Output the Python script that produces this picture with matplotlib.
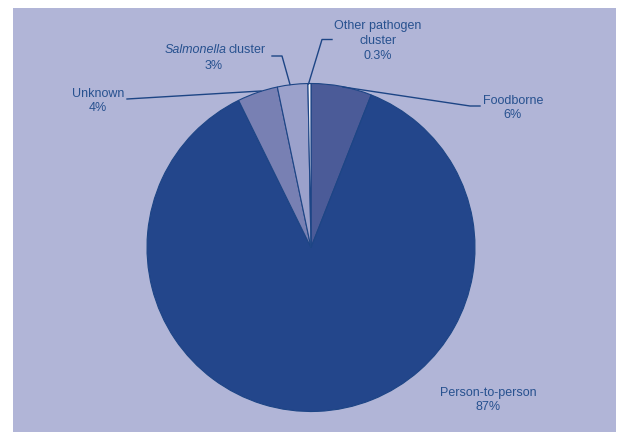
import matplotlib
matplotlib.use("Agg")
import matplotlib.pyplot as plt
from matplotlib.patches import Rectangle

# Data
categories = ["Foodborne", "Person-to-person", "Unknown", "Salmonella cluster", "Other pathogen cluster"]
values = [6, 87, 4, 3, 0.3]
pct_labels = ["6%", "87%", "4%", "3%", "0.3%"]
colors = ["#4b5b98", "#23468b", "#7880b3", "#9ba1cb", "#eef0f8"]

W, H = 617, 432
BG = "#b1b5d7"
TXT = "#27518f"
EDGE = "#1d4585"

fig = plt.figure(figsize=(W / 100, H / 100), dpi=100)
fig.patch.set_facecolor("white")
ax = fig.add_axes([0, 0, 1, 1])
ax.set_xlim(0, W)
ax.set_ylim(0, H)
ax.set_aspect("equal")
ax.axis("off")

def Y(y):
    return H - y

ax.add_patch(Rectangle((13, 0), 603, Y(8), facecolor=BG, edgecolor="none", zorder=0))

cx, cy, r = 311, 247.5, 164
ax.pie(values, colors=colors, startangle=90, counterclock=False,
       center=(cx, Y(cy)), radius=r, frame=True,
       wedgeprops=dict(edgecolor=EDGE, linewidth=0.8))
ax.set_xlim(0, W)
ax.set_ylim(0, H)
ax.axis("off")

FAM = ["Liberation Sans", "DejaVu Sans"]
fp = dict(family=FAM, fontsize=9, color=TXT, linespacing=1.3)

# Leader lines
def line(pts):
    xs = [p[0] for p in pts]
    ys = [Y(p[1]) for p in pts]
    ax.plot(xs, ys, color=EDGE, linewidth=1.0, zorder=5)

line([(308.5, 84), (322, 39.5), (332, 39.5)])
line([(290, 84.5), (282, 56), (272, 56)])
line([(261, 91), (127, 99)])
line([(343, 87), (470, 106), (480, 106)])

# Labels
ax.text(378, Y(41), categories[4].replace("pathogen cluster", "pathogen\ncluster") + "\n" + pct_labels[4],
        ha="center", va="center", **fp)
ax.text(227, Y(50), "Salmonella", ha="right", va="center", style="italic", **fp)
ax.text(228.5, Y(50), "cluster", ha="left", va="center", **fp)
ax.text(214, Y(66), pct_labels[3], ha="center", va="center", **fp)
ax.text(98, Y(101), categories[2] + "\n" + pct_labels[2], ha="center", va="center", **fp)
ax.text(513, Y(108), categories[0] + "\n" + pct_labels[0], ha="center", va="center", **fp)
ax.text(488, Y(400), categories[1] + "\n" + pct_labels[1], ha="center", va="center", **fp)

fig.savefig("out.png", dpi=100, facecolor=fig.get_facecolor())
